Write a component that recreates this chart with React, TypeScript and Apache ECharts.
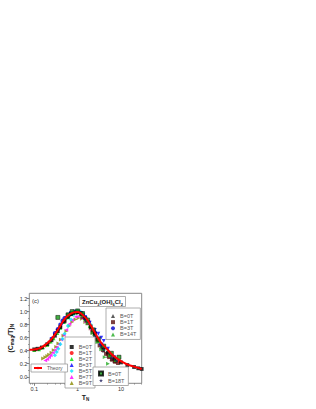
import React, { useEffect, useRef } from "react";
import * as echarts from "echarts";

// ---------- data: [T_N, (C_mag/T)_N] ----------
const theory: number[][] = [
  [0.077, 0.415], [0.1, 0.42], [0.135, 0.44], [0.17, 0.48], [0.23, 0.55], [0.3, 0.65],
  [0.39, 0.77], [0.47, 0.86], [0.56, 0.92], [0.7, 0.97], [0.85, 0.99], [1.0, 0.995],
  [1.2, 0.97], [1.6, 0.89], [2.0, 0.79], [2.75, 0.63], [3.5, 0.52], [4.7, 0.43],
  [6.5, 0.33], [10, 0.24], [14, 0.19], [19, 0.16], [30, 0.12],
];
const midB0: number[][] = [
  [0.1, 0.42], [0.12, 0.43], [0.15, 0.45], [0.2, 0.5], [0.25, 0.56], [0.3, 0.63], [0.35, 0.7],
  [0.4, 0.76], [0.5, 0.85], [0.6, 0.92], [0.7, 0.96], [0.8, 0.98], [1.0, 0.99], [1.2, 0.97],
  [1.5, 0.9], [2.0, 0.77], [2.5, 0.66], [3.0, 0.57], [4, 0.45], [5, 0.37], [7, 0.28],
  [10, 0.22], [14, 0.18], [20, 0.15], [25, 0.13], [30, 0.12],
];
const midB1: number[][] = [
  [0.11, 0.42], [0.14, 0.44], [0.18, 0.48], [0.22, 0.53], [0.27, 0.6], [0.33, 0.68], [0.4, 0.77],
  [0.5, 0.86], [0.65, 0.95], [0.8, 0.99], [1.0, 1.0], [1.3, 0.95], [1.7, 0.85], [2.2, 0.71],
  [3, 0.56], [4, 0.44], [6, 0.32], [9, 0.24],
];
const midB2: number[][] = [
  [0.1, 0.41], [0.13, 0.42], [0.16, 0.45], [0.2, 0.49], [0.24, 0.54], [0.28, 0.59], [0.34, 0.67],
  [0.4, 0.75], [0.48, 0.84], [0.58, 0.91], [0.7, 0.96], [0.85, 0.99], [1.0, 0.99], [1.2, 0.96],
  [1.5, 0.88], [1.9, 0.78], [2.4, 0.66], [3, 0.55], [4, 0.43], [5.5, 0.33], [7.5, 0.26],
];
const midB3: number[][] = [
  [0.25, 0.58], [0.3, 0.64], [0.36, 0.72], [0.45, 0.82], [0.55, 0.9], [0.7, 0.97], [0.85, 1.0],
  [1.0, 1.0], [1.2, 0.98], [1.5, 0.92], [1.9, 0.83], [2.5, 0.72], [3, 0.66], [3.5, 0.6],
  [4, 0.55], [5, 0.43], [7, 0.3],
];
const midB5: number[][] = [
  [0.3, 0.33], [0.33, 0.38], [0.36, 0.43], [0.4, 0.5], [0.45, 0.58], [0.5, 0.66], [0.6, 0.78],
  [0.7, 0.88], [0.8, 0.95], [0.9, 0.99], [1.0, 1.01], [1.15, 1.0], [1.35, 0.97], [1.6, 0.9],
  [2, 0.8], [2.5, 0.68],
];
const midB7: number[][] = [
  [0.18, 0.25], [0.2, 0.27], [0.22, 0.3], [0.24, 0.33], [0.27, 0.37], [0.3, 0.41], [0.33, 0.45],
  [0.37, 0.5], [0.42, 0.57], [0.48, 0.64], [0.55, 0.72], [0.65, 0.81], [0.75, 0.87], [0.9, 0.92],
  [1.05, 0.93], [1.25, 0.9], [1.5, 0.84], [2, 0.72],
];
const midB9: number[][] = [
  [0.16, 0.28], [0.18, 0.3], [0.2, 0.32], [0.22, 0.34], [0.25, 0.37], [0.28, 0.41], [0.32, 0.46],
  [0.36, 0.51], [0.41, 0.57], [0.47, 0.63], [0.55, 0.7], [0.65, 0.78], [0.75, 0.84], [0.9, 0.88],
  [1.05, 0.9], [1.25, 0.89], [1.5, 0.84], [2, 0.74], [3, 0.54], [5, 0.34], [8, 0.23],
];
const rightB0: number[][] = [
  [1.5, 0.9], [2, 0.76], [2.5, 0.64], [3, 0.54], [3.5, 0.46], [4, 0.4], [5, 0.32], [6, 0.27], [7, 0.24],
];
const rightB1: number[][] = [
  [1.3, 0.92], [1.7, 0.82], [2.2, 0.68], [2.7, 0.57], [3.2, 0.48], [3.8, 0.41], [4.5, 0.35],
  [5.3, 0.3], [6.2, 0.26], [7.2, 0.23], [8.5, 0.21],
];
const rightB3: number[][] = [
  [0.3, 0.67], [0.35, 0.73], [0.4, 0.8], [0.45, 0.86], [0.5, 0.9], [0.6, 0.95], [0.7, 0.98],
  [1, 1.0], [1.3, 0.96], [1.8, 0.84], [2.5, 0.68], [3.5, 0.5],
];
const rightB14: number[][] = [
  [0.6, 0.9], [0.8, 0.96], [1.0, 0.97], [1.3, 0.93], [1.7, 0.82], [2.2, 0.67], [2.8, 0.53],
  [3.5, 0.42], [4.2, 0.3], [5, 0.2],
];
const botB0: number[][] = [
  [0.35, 0.91], [0.6, 0.95], [0.75, 1.0], [1.0, 1.01], [1.3, 0.97], [1.7, 0.87], [2.3, 0.72],
  [3, 0.58], [4, 0.47], [6, 0.36], [9, 0.3],
];
const botB18: number[][] = [
  [1.5, 0.88], [2.5, 0.62], [4, 0.42], [6, 0.3], [8, 0.25],
];

const xMajor = [0.1, 1, 10];
const xMinor = [0.08, 0.09, 0.2, 0.3, 0.4, 0.5, 0.6, 0.7, 0.8, 0.9, 2, 3, 4, 5, 6, 7, 8, 9, 20, 30];
const yMajor = [0, 0.2, 0.4, 0.6, 0.8, 1.0, 1.2];
const yMinor = [0.1, 0.3, 0.5, 0.7, 0.9, 1.1];

const STAR =
  "path://M50,0 L61,35 L98,35 L68,57 L79,91 L50,70 L21,91 L32,57 L2,35 L39,35 Z";

const lg = (d: number[][]) => d.map(([t, v]) => [Math.log10(t), v]);

export default function App() {
  const ref = useRef<HTMLDivElement>(null);
  useEffect(() => {
    if (!ref.current) return;
    const chart = echarts.init(ref.current, null, { renderer: "svg" });
    const font = "Liberation Sans";
    const sc = (
      name: string,
      data: number[][],
      color: string,
      symbol: string,
      rotate = 0,
      size = 3.8,
      border?: string
    ) => ({
      type: "scatter",
      name,
      data: lg(data),
      symbol,
      symbolRotate: rotate,
      symbolSize: size,
      itemStyle: { color, borderColor: border || color, borderWidth: border ? 0.6 : 0 },
      z: 2,
    });
    const legendText = { fontSize: 5.5, color: "#555", fontFamily: font, lineHeight: 5.85 };
    const legendCommon = {
      orient: "vertical",
      selectedMode: false,
      itemWidth: 4,
      itemHeight: 4,
      itemGap: 0,
      borderColor: "#999",
      borderWidth: 0.8,
      backgroundColor: "#fff",
      formatter: (n: string) => n.trim(),
      z: 10,
    };
    const subRich = { fontSize: 4.5, fontWeight: "bold", color: "#222", verticalAlign: "bottom", lineHeight: 9 };
    const xRange = { min: Math.log10(0.077), max: Math.log10(30) };
    const yRange = { min: -0.1, max: 1.28 };
    chart.setOption({
      animation: false,
      backgroundColor: "#fff",
      textStyle: { fontFamily: font },
      grid: { left: 29.3, top: 293.3, right: 174.3, bottom: 25.7, show: true, borderColor: "#888", borderWidth: 1 },
      title: {
        left: 79,
        top: 296,
        padding: [2, 3, 1, 3],
        borderColor: "#999",
        borderWidth: 0.8,
        backgroundColor: "#fff",
        text: "ZnCu{s|3}(OH){s|6}Cl{s|2}",
        textStyle: {
          fontSize: 6,
          fontWeight: "bold",
          color: "#222",
          fontFamily: font,
          lineHeight: 8,
          rich: { s: { fontSize: 4, fontWeight: "bold", color: "#222", verticalAlign: "bottom", lineHeight: 8 } },
        },
        z: 10,
      },
      legend: [
        {
          ...legendCommon,
          left: 106,
          top: 308,
          padding: [5, 4, 2, 5],
          itemGap: 0.15,
          textStyle: { ...legendText, lineHeight: 6 },
          data: ["B=0T ", "B=1T ", "B=3T ", "B=14T"],
        },
        {
          ...legendCommon,
          left: 65,
          top: 337,
          padding: [7, 3, 2, 4.7],
          textStyle: legendText,
          data: ["B=0T", "B=1T", "B=2T", "B=3T", "B=5T", "B=7T", "B=9T"],
        },
        {
          ...legendCommon,
          left: 93,
          top: 367,
          padding: [3.5, 4, 2, 5],
          itemGap: 1,
          textStyle: { ...legendText, lineHeight: 6 },
          data: ["B=0T  ", "B=18T"],
        },
        {
          ...legendCommon,
          left: 31,
          top: 364,
          padding: [1, 5, 1, 2],
          itemWidth: 8,
          itemHeight: 3,
          textStyle: { ...legendText, fontSize: 5, lineHeight: 6 },
          data: ["Theory"],
        },
      ],
      xAxis: [
        {
          type: "value",
          position: "bottom",
          ...xRange,
          splitLine: { show: false },
          axisLine: { show: false, onZero: false },
          axisTick: { show: true, length: 2.5, customValues: xMajor.map(Math.log10), lineStyle: { color: "#666", width: 0.8 } },
          axisLabel: {
            customValues: xMajor.map(Math.log10),
            formatter: (v: number) => String(Math.round(Math.pow(10, v) * 1000) / 1000),
            fontSize: 5.5,
            color: "#333",
            margin: 3,
          },
          name: "T{s|N}",
          nameLocation: "middle",
          nameGap: 9,
          nameTextStyle: {
            fontSize: 7,
            fontWeight: "bold",
            color: "#222",
            lineHeight: 9,
            rich: { s: subRich },
          },
        },
        {
          type: "value",
          position: "bottom",
          ...xRange,
          splitLine: { show: false },
          axisLine: { show: false, onZero: false },
          axisLabel: { show: false },
          axisTick: { show: true, length: 1.3, customValues: xMinor.map(Math.log10), lineStyle: { color: "#666", width: 0.6 } },
        },
      ],
      yAxis: [
        {
          type: "value",
          position: "left",
          ...yRange,
          splitLine: { show: false },
          axisLine: { show: false, onZero: false },
          axisTick: { show: true, length: 2.5, customValues: yMajor, lineStyle: { color: "#666", width: 0.8 } },
          axisLabel: {
            customValues: yMajor,
            formatter: (v: number) => v.toFixed(1),
            fontSize: 5.5,
            color: "#333",
            margin: 2,
          },
          name: "(C{s|mag}/T){s|N}",
          nameLocation: "middle",
          nameRotate: 90,
          nameGap: 14,
          nameTextStyle: {
            fontSize: 7,
            fontWeight: "bold",
            color: "#222",
            lineHeight: 9,
            rich: { s: subRich },
          },
        },
        {
          type: "value",
          position: "left",
          ...yRange,
          splitLine: { show: false },
          axisLine: { show: false, onZero: false },
          axisLabel: { show: false },
          axisTick: { show: true, length: 1.3, customValues: yMinor, lineStyle: { color: "#666", width: 0.6 } },
        },
      ],
      graphic: [
        { type: "text", left: 32, top: 298, style: { text: "(c)", fontSize: 6, fill: "#333", fontFamily: font }, z: 10 },
      ],
      series: [
        sc("B=9T", midB9, "#8a8a00", "triangle", -90),
        sc("B=7T", midB7, "#ff00ff", "triangle", 90),
        sc("B=5T", midB5, "#00e5ff", "diamond", 0, 4.2),
        sc("B=0T ", rightB0, "#333333", "triangle"),
        sc("B=1T ", rightB1, "#5a1010", "rect"),
        sc("B=1T", midB1, "#ff0000", "circle"),
        sc("B=2T", midB2, "#00dd00", "triangle"),
        sc("B=3T", midB3, "#0000ff", "triangle", 180),
        sc("B=3T ", rightB3, "#0000cc", "circle", 0, 4.2),
        sc("B=14T", rightB14, "#22aa22", "triangle", -90),
        sc("B=0T", midB0, "#000000", "rect"),
        sc("B=0T  ", botB0, "#119911", "rect", 0, 4, "#000000"),
        sc("B=18T", botB18, "#1a1a5a", STAR, 0, 4.8),
        {
          type: "line",
          name: "Theory",
          data: lg(theory),
          smooth: true,
          symbol: "none",
          lineStyle: { color: "#ff0000", width: 2 },
          itemStyle: { color: "#ff0000" },
          z: 5,
        },
      ],
    });
    return () => chart.dispose();
  }, []);
  return <div ref={ref} style={{ position: "fixed", left: 0, top: 0, width: 316, height: 409 }} />;
}
